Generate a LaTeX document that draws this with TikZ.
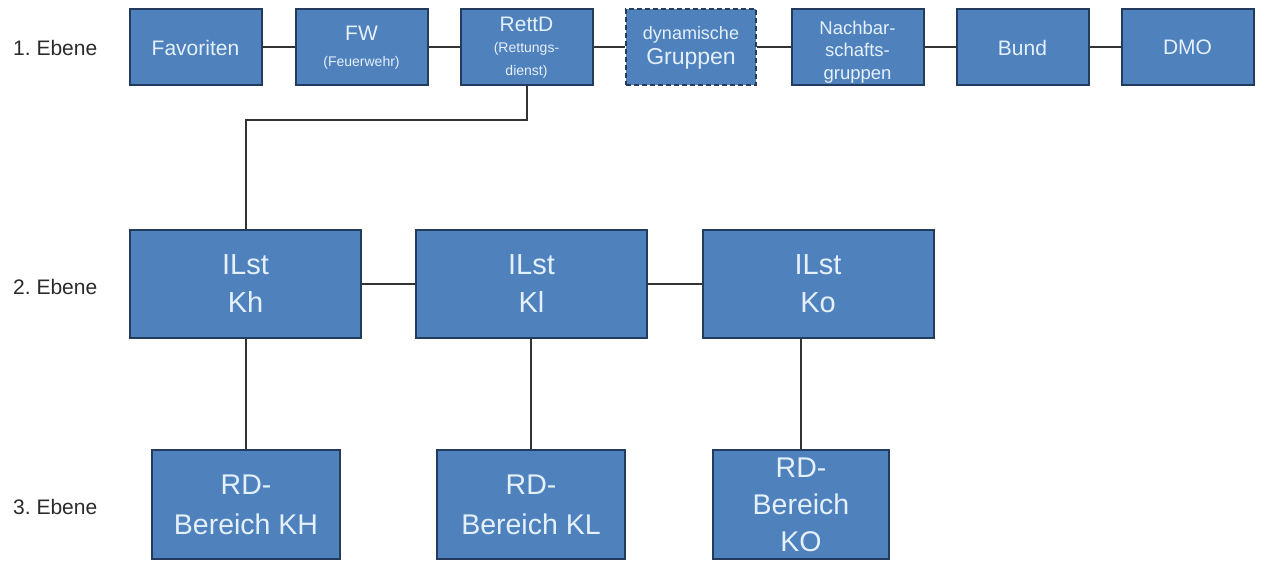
\documentclass[tikz,border=0pt]{standalone}
\usepackage{fontspec}
\setmainfont{Liberation Sans}
\frenchspacing
\begin{document}
\begin{tikzpicture}[x=1pt,y=-1pt,
  box/.style={draw=boxline,line width=2pt,fill=boxfill,text=boxtext,inner sep=0pt,align=center},
  conn/.style={draw=connline,line width=2pt},
  lvl/.style={text=lvltext,font=\fontsize{21}{22}\selectfont,anchor=west,inner sep=0pt}]
\definecolor{boxfill}{HTML}{4F81BD}
\definecolor{boxline}{HTML}{233C5E}
\definecolor{boxtext}{HTML}{E4F0FB}
\definecolor{connline}{HTML}{333333}
\definecolor{lvltext}{HTML}{2A2A2A}
\useasboundingbox (0,0) rectangle (1261,561);
% level labels
\node[lvl] (l1) at (13,48) {1. Ebene};
\node[lvl] (l2) at (13,287) {2. Ebene};
\node[lvl] (l3) at (13,507) {3. Ebene};
% top row
\tikzset{top/.style={box,minimum width=132pt,minimum height=76pt},
  big/.style={font=\fontsize{21}{24}\selectfont}}
\newcommand{\sml}{\fontsize{14}{19}\selectfont}
\node[top,big] (fav) at (195.5,47.5) {Favoriten};
\node[top,big] (fw) at (361.5,47.5) {FW\\[2pt]\sml (Feuerwehr)};
\node[top,big] (rett) at (526.5,47.5) {RettD\\[-3pt]\sml (Rettungs-\\[-1pt]\sml dienst)};
\node[top,minimum width=130pt,dash pattern=on 5pt off 3pt,font=\fontsize{18}{22}\selectfont] (dyn) at (691,47.5) {dynamische\\[3pt]\fontsize{23}{24}\selectfont Gruppen};
\node[top,font=\fontsize{18.5}{22.5}\selectfont] (nach) at (857.5,47.5) {\rule{0pt}{22pt}Nachbar-\\schafts-\\gruppen};
\node[top,big] (bund) at (1022.5,47.5) {Bund};
\node[top,big] (dmo) at (1187.5,47.5) {DMO};
% second row
\tikzset{mid/.style={box,minimum width=231pt,minimum height=108pt,font=\fontsize{29}{38}\selectfont}}
\node[mid] (kh) at (245.5,284) {ILst\\Kh};
\node[mid] (kl) at (531.5,284) {ILst\\Kl};
\node[mid] (ko) at (818,284) {ILst\\Ko};
% third row
\tikzset{bot/.style={box,minimum height=109pt,font=\fontsize{28.5}{40}\selectfont}}
\node[bot,minimum width=188pt] (rkh) at (246,504.5) {RD-\\Bereich KH};
\node[bot,minimum width=188pt] (rkl) at (531,504.5) {RD-\\Bereich KL};
\node[bot,minimum width=176pt,font=\fontsize{28.5}{37}\selectfont] (rko) at (801,504.5) {RD-\\Bereich\\KO};
% connectors
\draw[conn] (fav) -- (fw);
\draw[conn] (fw) -- (rett);
\draw[conn] (rett) -- (dyn);
\draw[conn] (dyn) -- (nach);
\draw[conn] (nach) -- (bund);
\draw[conn] (bund) -- (dmo);
\coordinate (bend) at (526.5,120);
\draw[conn] (rett.south) -- (bend) -| (kh.north);
\draw[conn] (kh) -- (kl);
\draw[conn] (kl) -- (ko);
\draw[conn] (kh.south) -- (rkh.north -| kh.south);
\draw[conn] (kl.south -| rkl.north) -- (rkl.north);
\draw[conn] (rko.north) -- (rko.north |- ko.south);
\end{tikzpicture}
\end{document}
